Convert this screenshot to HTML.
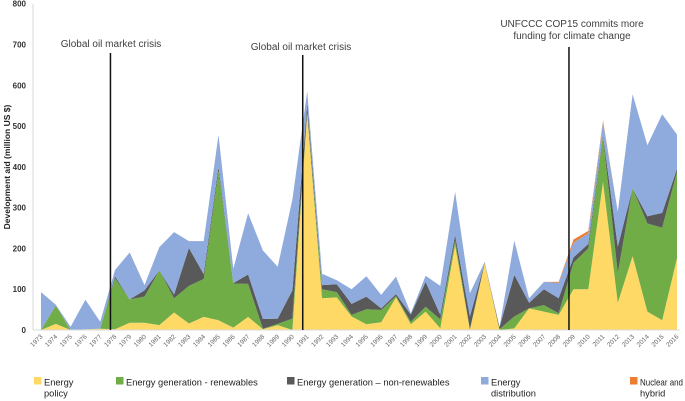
<!DOCTYPE html>
<html><head><meta charset="utf-8">
<style>
body{margin:0;background:#fff;font-family:"Liberation Sans",sans-serif;}
svg{display:block}
text{font-family:"Liberation Sans",sans-serif}
</style></head>
<body>
<svg id="chart" width="685" height="401" viewBox="0 0 685 401" xmlns="http://www.w3.org/2000/svg">
<g id="areas"></g>
<g id="axes"></g>
<g id="annot"></g>
<g id="legend"></g>
</svg>
<script>
const years = [1973,1974,1975,1976,1977,1978,1979,1980,1981,1982,1983,1984,1985,1986,1987,1988,1989,1990,1991,1992,1993,1994,1995,1996,1997,1998,1999,2000,2001,2002,2003,2004,2005,2006,2007,2008,2009,2010,2011,2012,2013,2014,2015,2016];
const policy = [0,15,0,2,3,2,18,18,12,43,16,32,24,6,32,2,12,0,530,78,80,33,14,19,80,14,45,4,208,0,163,0,4,53,45,37,100,100,363,67,181,45,24,176];
const renewables = [0,45,0,0,0,125,57,64,134,35,92,93,366,108,81,1,3,28,5,22,13,4,37,30,3,6,12,22,12,2,1,2,29,0,16,4,65,100,110,73,166,216,227,212];
const nonRenewables = [0,0,0,0,0,5,0,15,0,9,93,12,10,1,23,24,13,69,20,10,19,27,31,4,5,18,61,11,13,31,1,5,102,14,39,37,13,11,5,64,0,18,36,7];
const distribution = [93,2,8,72,17,15,115,13,57,153,17,81,78,35,150,168,127,223,30,28,10,36,50,33,43,3,15,71,106,57,2,0,84,11,18,38,36,26,32,86,231,174,242,84];
const nuclear = [0,0,0,0,0,0,0,0,0,0,0,0,0,0,0,0,0,0,0,0,0,0,0,0,0,0,0,0,0,0,0,0,0,0,0,2,8,6,4,0,0,0,0,0];
const yTicks = [0,100,200,300,400,500,600,700,800];
const events = [1978,1991,2009];

const NS="http://www.w3.org/2000/svg";
const x0=41, x1=677, yBase=330, yTop=3.7, yMax=800;
function xs(i){return x0+(x1-x0)*i/(years.length-1);}
function ys(v){return yBase-(yBase-yTop)*v/yMax;}
function mk(tag,attrs,parent){const e=document.createElementNS(NS,tag);for(const k in attrs)e.setAttribute(k,attrs[k]);parent.appendChild(e);return e;}

const series=[["energy-policy",policy,"#FFD966"],["renewables",renewables,"#70AD47"],["non-renewables",nonRenewables,"#595959"],["distribution",distribution,"#8FAADC"],["nuclear-hybrid",nuclear,"#ED7D31"]];
const areas=document.getElementById('areas');
let cum=years.map(()=>0);
series.forEach(([name,vals,col])=>{
  const lower=cum.slice();
  const upper=cum.map((c,i)=>c+vals[i]);
  let d="M"+years.map((_,i)=>xs(i).toFixed(1)+","+ys(upper[i]).toFixed(1)).join("L");
  for(let i=years.length-1;i>=0;i--) d+="L"+xs(i).toFixed(1)+","+ys(lower[i]).toFixed(1);
  d+="Z";
  const p=mk('path',{d:d,fill:col,stroke:'none'},areas);
  
  
  cum=upper;
});

const axes=document.getElementById('axes');
const ya=mk('line',{x1:33,y1:yTop,x2:33,y2:yBase,stroke:'#d9d9d9','stroke-width':1},axes);


const xa=mk('line',{x1:33,y1:yBase,x2:680,y2:yBase,stroke:'#d9d9d9','stroke-width':1},axes);


yTicks.forEach(v=>{
  const t=mk('text',{x:26,y:ys(v)+3,'text-anchor':'end','font-size':8,'font-weight':'bold',fill:'#333'},axes);
  t.textContent=v;
  
  
});
years.forEach((yr,i)=>{
  const x=xs(i);
  const t=mk('text',{x:x+2,y:337,'text-anchor':'end','font-size':6.5,fill:'#666',transform:`rotate(-45 ${x+2} 337)`},axes);
  t.textContent=yr;
  
  
});
const yt=mk('text',{x:10,y:167,'text-anchor':'middle','font-size':8.5,'font-weight':'bold',fill:'#222',transform:'rotate(-90 10 167)'},axes);
yt.textContent="Development aid (million US $)";



const annot=document.getElementById('annot');
const tops=[53,55,47];
events.forEach((yr,k)=>{
  const i=years.indexOf(yr);
  const x=xs(i)-4.5;
  const l=mk('line',{x1:x,y1:tops[k],x2:x,y2:yBase,stroke:'#111','stroke-width':1.5},annot);
  
  
});
function label(txt,x,y,name){const t=mk('text',{x:x,y:y,'text-anchor':'middle','font-size':10,fill:'#404040'},annot);t.textContent=txt;}
label("Global oil market crisis",111,47,"annotation-oil-crisis-1978");
label("Global oil market crisis",301,50,"annotation-oil-crisis-1991");
label("UNFCCC COP15 commits more",572,27,"annotation-cop15-line1");
label("funding for climate change",572,39,"annotation-cop15-line2");

const legend=document.getElementById('legend');
const items=[["#FFD966",34,["Energy","policy"],"legend-energy-policy"],["#70AD47",116,["Energy generation - renewables"],"legend-renewables"],["#595959",287,["Energy generation \u2013 non-renewables"],"legend-non-renewables"],["#8FAADC",481,["Energy","distribution"],"legend-distribution"],["#ED7D31",630,["Nuclear and","hybrid"],"legend-nuclear-hybrid"]];
items.forEach(([col,x,lines,name])=>{
  const g=mk('g',{},legend);
  
  
  mk('rect',{x:x,y:377,width:7.5,height:7.5,fill:col},g);
  lines.forEach((ln,j)=>{
    const a={x:x+10,y:385.5+j*11,'font-size':9.3,fill:'#222'};
    if(ln==="Nuclear and"){a.textLength=43;a.lengthAdjust='spacingAndGlyphs';}
    const t=mk('text',a,g);t.textContent=ln;});
});
</script>
</body></html>
